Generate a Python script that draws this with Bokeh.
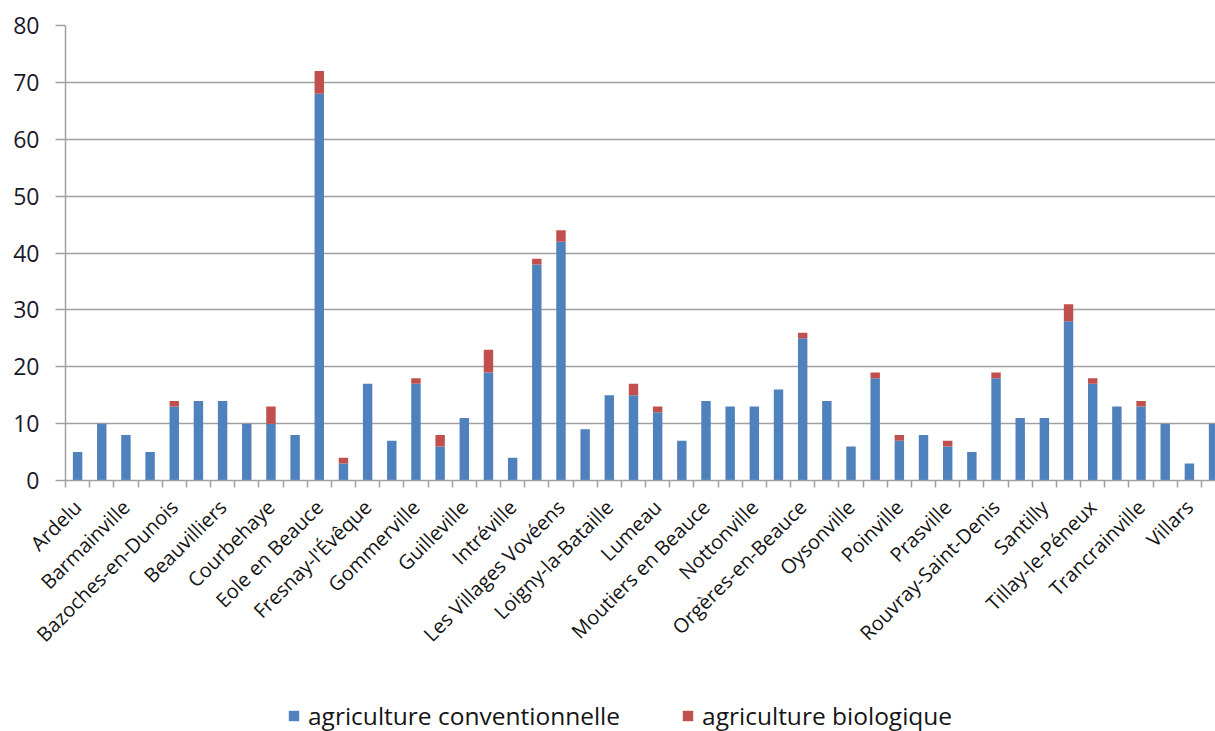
from bokeh.plotting import figure
from bokeh.layouts import column
from bokeh.models import Range1d, FixedTicker, Legend, LegendItem, ColumnDataSource
from bokeh.embed import file_html
from bokeh.resources import INLINE
from math import pi

# Communes (alphabetical), number of farms by type of agriculture
communes = [
    "Ardelu", "Baignolet", "Barmainville", "Baudreville", "Bazoches-en-Dunois",
    "Bazoches-les-Hautes", "Beauvilliers", "Cormainville", "Courbehaye", "Dambron",
    "Eole en Beauce", "Fontenay-sur-Conie", "Fresnay-l'Évêque", "Germignonville",
    "Gommerville", "Gouillons", "Guilleville", "Guillonville", "Intréville",
    "Janville-en-Beauce", "Les Villages Vovéens", "Levesville-la-Chenard",
    "Loigny-la-Bataille", "Louville-la-Chenard", "Lumeau", "Mérouville",
    "Moutiers en Beauce", "Neuvy-en-Beauce", "Nottonville", "Oinville-Saint-Liphard",
    "Orgères-en-Beauce", "Ouarville", "Oysonville", "Péronville", "Poinville",
    "Poupry", "Prasville", "Réclainville", "Rouvray-Saint-Denis", "Sancheville",
    "Santilly", "Terminiers", "Tillay-le-Péneux", "Toury", "Trancrainville",
    "Varize", "Villars", "Ymonville",
]
conventionnelle = [
    5, 10, 8, 5, 13, 14, 14, 10, 10, 8,
    68, 3, 17, 7, 17, 6, 11, 19, 4, 38,
    42, 9, 15, 15, 12, 7, 14, 13, 13, 16,
    25, 14, 6, 18, 7, 8, 6, 5, 18, 11,
    11, 28, 17, 13, 13, 10, 3, 10,
]
biologique = [
    0, 0, 0, 0, 1, 0, 0, 0, 3, 0,
    4, 1, 0, 0, 1, 2, 0, 4, 0, 1,
    2, 0, 0, 2, 1, 0, 0, 0, 0, 0,
    1, 0, 0, 1, 1, 0, 1, 0, 1, 0,
    0, 3, 1, 0, 1, 0, 0, 0,
]
series = ["conv", "bio"]
series_labels = ["agriculture conventionnelle", "agriculture biologique"]
colors = ["#4F81BD", "#C0504D"]
y_ticks = [0, 10, 20, 30, 40, 50, 60, 70, 80]

FONT = "Open Sans"
GRID = "#a0a0a0"
TEXT = "#151515"

positions = list(range(len(communes)))
source = ColumnDataSource(dict(x=positions, conv=conventionnelle, bio=biologique))

p = figure(
    width=1215, height=690,
    x_range=Range1d(-0.5, len(communes) - 0.92),
    y_range=Range1d(0, 80),
    output_backend="svg", toolbar_location=None,
    min_border_left=65, min_border_right=0,
    min_border_top=25, min_border_bottom=210,
)
p.outline_line_color = None

renderers = p.vbar_stack(series, x="x", width=0.39, color=colors, line_color=None, source=source)

# x axis: small ticks between communes, every other name shown
xa = p.xaxis[0]
xa.ticker = FixedTicker(
    ticks=positions[::2],
    minor_ticks=[i - 0.5 for i in range(len(communes) + 1)],
)
xa.major_label_overrides = {i: communes[i] for i in positions[::2]}
xa.major_label_orientation = pi / 4
xa.major_tick_line_color = None
xa.major_tick_out = 0
xa.major_tick_in = 0
xa.minor_tick_line_color = GRID
xa.minor_tick_line_width = 1.5
xa.minor_tick_out = 7
xa.minor_tick_in = 0
xa.axis_line_color = GRID
xa.axis_line_width = 1.5
xa.major_label_standoff = 16
xa.major_label_text_font = FONT
xa.major_label_text_font_size = "20px"
xa.major_label_text_color = TEXT

# y axis
ya = p.yaxis[0]
ya.ticker = FixedTicker(ticks=y_ticks, minor_ticks=[])
ya.axis_line_color = GRID
ya.axis_line_width = 1.5
ya.major_tick_line_color = GRID
ya.major_tick_line_width = 1.5
ya.major_tick_out = 10
ya.major_tick_in = 0
ya.minor_tick_line_color = None
ya.major_label_standoff = 16
ya.major_label_text_font = FONT
ya.major_label_text_font_size = "23px"
ya.major_label_text_color = "#1a1a2a"

p.xgrid.grid_line_color = None
p.ygrid.grid_line_color = GRID
p.ygrid.grid_line_width = 1.5

# legend strip under the chart; its bars sit outside the visible range and
# only serve as legend swatches
leg_fig = figure(
    width=1215, height=41,
    x_range=Range1d(0, 1), y_range=Range1d(0, 1),
    x_axis_type=None, y_axis_type=None,
    output_backend="svg", toolbar_location=None,
    min_border_left=65, min_border_right=0,
    min_border_top=0, min_border_bottom=0,
)
leg_fig.outline_line_color = None
leg_fig.xgrid.grid_line_color = None
leg_fig.ygrid.grid_line_color = None
swatch_src = ColumnDataSource(dict(x=[-10], top=[0]))
swatches = [leg_fig.vbar(x="x", top="top", width=0.1, fill_color=c, line_color=None, source=swatch_src)
            for c in colors]

legend = Legend(
    items=[LegendItem(label=lab, renderers=[r], index=0) for lab, r in zip(series_labels, swatches)],
    orientation="horizontal",
    location=(222, -1),
    glyph_width=13, glyph_height=13,
    label_standoff=8, spacing=61,
    padding=0, margin=0,
    border_line_color=None, background_fill_alpha=0,
    label_text_font=FONT, label_text_font_size="24.5px",
    label_text_color=TEXT,
)
leg_fig.add_layout(legend, "center")

layout = column(p, leg_fig, spacing=0)
open("out.html", "w").write(file_html(layout, INLINE))
